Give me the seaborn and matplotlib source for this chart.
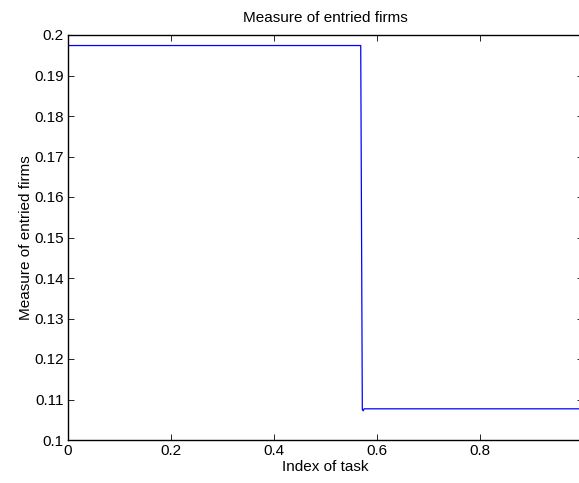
import matplotlib
matplotlib.use("Agg")
import matplotlib.pyplot as plt
import seaborn as sns
import pandas as pd

# Data
task_index = [0.0, 0.5684, 0.5715, 0.5734, 0.575, 1.0]
entried = [0.1974, 0.1974, 0.1075, 0.1072, 0.1077, 0.1077]
x_ticks = [0, 0.2, 0.4, 0.6, 0.8]
y_ticks = [0.1, 0.11, 0.12, 0.13, 0.14, 0.15, 0.16, 0.17, 0.18, 0.19, 0.2]
y_tick_labels = ["0.1", "0.11", "0.12", "0.13", "0.14", "0.15", "0.16", "0.17", "0.18", "0.19", "0.2"]

sns.set_theme(style="white")
plt.rcParams['font.family'] = ['Liberation Sans', 'DejaVu Sans']

df = pd.DataFrame({"Index of task": task_index, "Measure of entried firms": entried})

fig = plt.figure(figsize=(5.79, 4.83), dpi=100)
W, H = 579, 483
ax = fig.add_axes([68 / W, (H - 440) / H, (583 - 68) / W, (440 - 35) / H])

sns.lineplot(data=df, x="Index of task", y="Measure of entried firms", ax=ax,
             color=(0, 0, 1), linewidth=0.9, sort=False, estimator=None)

ax.set_xlim(0, 1)
ax.set_ylim(0.1, 0.2)
ax.set_xticks(x_ticks)
ax.set_xticklabels(["0", "0.2", "0.4", "0.6", "0.8"])
ax.set_yticks(y_ticks)
ax.set_yticklabels(y_tick_labels)

for s in ax.spines.values():
    s.set_visible(True)
    s.set_color("black")
    s.set_linewidth(1.0)

FS = 11
ax.tick_params(axis="both", which="major", direction="in", length=4, width=0.6,
               color="black", labelsize=FS, labelcolor="black",
               top=True, right=True, bottom=True, left=True, pad=3)

ax.set_xlabel("Index of task", fontsize=FS, color="black", labelpad=1)
ax.set_ylabel("Measure of entried firms", fontsize=FS, color="black", labelpad=1)
ax.set_title("Measure of entried firms", fontsize=FS, color="black", pad=9)

fig.savefig("out.png", dpi=100)
